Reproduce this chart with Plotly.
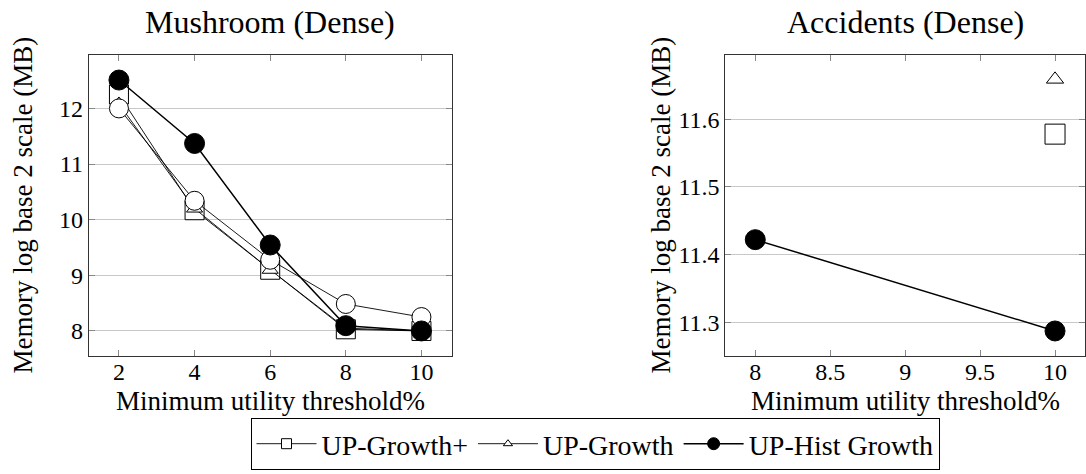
import plotly.graph_objects as go

# ---- data ----
mush_x = [2, 4, 6, 8, 10]
mush_upgrowth_plus = [12.25, 10.17, 9.10, 8.03, 8.00]
mush_upgrowth = [12.08, 10.20, 9.10, 8.05, 8.00]
mush_uphist = [12.51, 11.37, 9.545, 8.095, 8.00]
mush_other = [12.00, 10.34, 9.28, 8.485, 8.25]

acc_x = [8, 10]
acc_upgrowth_plus = [None, 11.578]
acc_upgrowth = [None, 11.659]
acc_uphist = [11.422, 11.287]

legend_names = ["UP-Growth+", "UP-Growth", "UP-Hist Growth"]

FONT = "Liberation Serif"
W, H = 1086, 474

fig = go.Figure()

def add(x, y, symbol, size, lw, xa, ya, name, fill="white", mlw=1.0):
    fig.add_trace(go.Scatter(
        x=x, y=y, mode="lines+markers", name=name, showlegend=False,
        xaxis=xa, yaxis=ya, cliponaxis=False,
        line=dict(color="black", width=lw),
        marker=dict(symbol=symbol, size=size, color=fill,
                    line=dict(color="black", width=mlw)),
    ))

# left: Mushroom
add(mush_x, mush_upgrowth_plus, "square", 19, 0.9, "x", "y", legend_names[0])
add(mush_x, mush_upgrowth, "triangle-up", 14, 0.9, "x", "y", legend_names[1])
add(mush_x, mush_other, "circle", 19, 0.9, "x", "y", "other")
add(mush_x, mush_uphist, "circle", 20, 1.5, "x", "y", legend_names[2], fill="black")

# right: Accidents
add(acc_x, acc_upgrowth_plus, "square", 20, 0.9, "x2", "y2", legend_names[0])
add(acc_x, acc_upgrowth, "triangle-up", 15, 0.9, "x2", "y2", legend_names[1])
add(acc_x, acc_uphist, "circle", 20, 1.5, "x2", "y2", legend_names[2], fill="black")

# legend-only entries with small markers
for name, sym, sz, lw, fill in [
    (legend_names[0], "square", 10, 0.9, "white"),
    (legend_names[1], "triangle-up", 8, 0.9, "white"),
    (legend_names[2], "circle", 12, 1.5, "black"),
]:
    fig.add_trace(go.Scatter(
        x=[None], y=[None], mode="lines+markers", name=name, showlegend=True,
        line=dict(color="black", width=lw),
        marker=dict(symbol=sym, size=sz, color=fill, line=dict(color="black", width=1)),
    ))

L1, R1 = 88.7 / W, 451.7 / W
L2, R2 = 725.3 / W, 1085.0 / W
B, T = 1 - 356 / H, 1 - 55 / H

axis_common = dict(
    showline=True, linecolor="#333333", linewidth=1, mirror="ticks",
    ticks="inside", ticklen=6, tickcolor="#888888", tickwidth=1,
    tickfont=dict(family=FONT, size=24, color="black"),
    zeroline=False,
)

fig.update_layout(
    width=W, height=H,
    margin=dict(l=0, r=0, t=0, b=0),
    paper_bgcolor="white", plot_bgcolor="white",
    font=dict(family=FONT, color="black"),
    xaxis=dict(domain=[L1, R1], range=[1.2, 10.8], tickvals=[2, 4, 6, 8, 10],
               showgrid=False, anchor="y", ticklabelstandoff=-6, **axis_common),
    yaxis=dict(domain=[B, T], range=[7.55, 12.96], tickvals=[8, 9, 10, 11, 12],
               showgrid=True, gridcolor="#c8c8c8", gridwidth=1, anchor="x", **axis_common),
    xaxis2=dict(domain=[L2, R2], range=[7.8, 10.2], tickvals=[8, 8.5, 9, 9.5, 10],
                ticktext=["8", "8.5", "9", "9.5", "10"],
                showgrid=False, anchor="y2", ticklabelstandoff=-6, **axis_common),
    yaxis2=dict(domain=[B, T], range=[11.25, 11.695], tickvals=[11.3, 11.4, 11.5, 11.6],
                ticktext=["11.3", "11.4", "11.5", "11.6"],
                showgrid=True, gridcolor="#c8c8c8", gridwidth=1, anchor="x2", **axis_common),
    legend=dict(orientation="h", x=595 / W, y=1 - 444 / H, xanchor="center", yanchor="middle",
                bordercolor="black", borderwidth=1, bgcolor="white",
                font=dict(family=FONT, size=28, color="black"),
                itemwidth=60, tracegroupgap=0),
    showlegend=True,
)

ann = []
ann.append(dict(text="Mushroom (Dense)", x=(L1 + R1) / 2, y=1 - 22 / H,
                font=dict(size=32)))
ann.append(dict(text="Accidents (Dense)", x=(L2 + R2) / 2, y=1 - 22 / H,
                font=dict(size=32)))
ann.append(dict(text="Minimum utility threshold%", x=(L1 + R1) / 2, y=1 - 401 / H,
                font=dict(size=27)))
ann.append(dict(text="Minimum utility threshold%", x=(L2 + R2) / 2, y=1 - 401 / H,
                font=dict(size=27)))
ann.append(dict(text="Memory log base 2 scale (MB)", x=22 / W, y=(B + T) / 2,
                textangle=-90, font=dict(size=27)))
ann.append(dict(text="Memory log base 2 scale (MB)", x=660 / W, y=(B + T) / 2,
                textangle=-90, font=dict(size=27)))
for a in ann:
    a.update(xref="paper", yref="paper", xanchor="center", yanchor="middle",
             showarrow=False)
    a["font"].update(family=FONT, color="black")
fig.update_layout(annotations=ann)

fig.write_html("out.html")
